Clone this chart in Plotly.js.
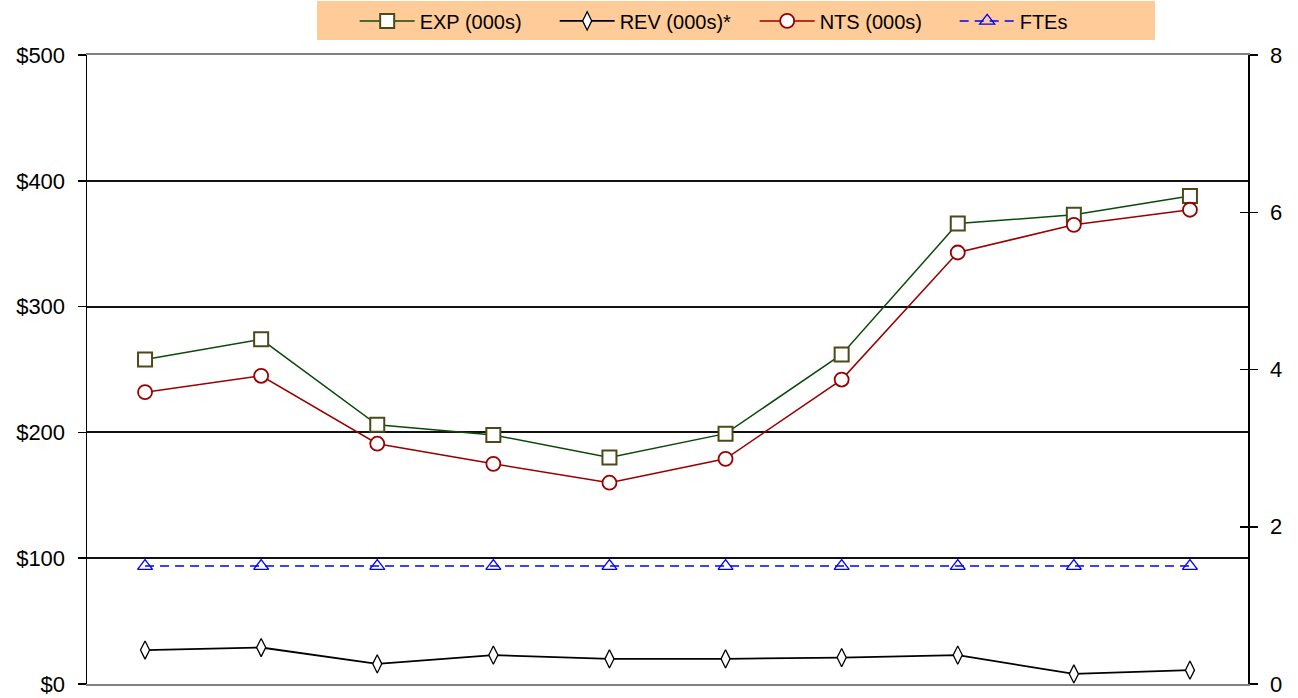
<!DOCTYPE html>
<html>
<head>
<meta charset="utf-8">
<script src="https://cdn.plot.ly/plotly-3.0.1.min.js"></script>
<style>html,body{margin:0;padding:0;background:#fff;}#chart{width:1298px;height:698px;}</style>
</head>
<body>
<div id="chart"></div>
<script>
const categories = [1, 2, 3, 4, 5, 6, 7, 8, 9, 10];
const expValues = [258, 274, 206, 198, 180, 199, 262, 366, 373, 388];
const revValues = [27, 29, 16, 23, 20, 20, 21, 23, 8, 11];
const ntsValues = [232, 245, 191, 175, 160, 179, 242, 343, 365, 377];
const fteValues = [1.5, 1.5, 1.5, 1.5, 1.5, 1.5, 1.5, 1.5, 1.5, 1.5];
const seriesNames = ["EXP (000s)", "REV (000s)*", "NTS (000s)", "FTEs"];
const leftTicks = [0, 100, 200, 300, 400, 500];
const leftTickLabels = ["$0", "$100", "$200", "$300", "$400", "$500"];
const rightTicks = [0, 2, 4, 6, 8];
const rightTickLabels = ["0", "2", "4", "6", "8"];

const xIdx = categories.map((c, i) => i);

const traces = [
  {
    x: xIdx, y: expValues, name: seriesNames[0], type: 'scatter', mode: 'lines+markers',
    line: {color: '#0b4a0b', width: 1.5},
    marker: {symbol: 'square', size: 14, color: '#ffffff', line: {color: '#4a4a1a', width: 2}}
  },
  {
    x: xIdx, y: revValues, name: seriesNames[1], type: 'scatter', mode: 'lines+markers',
    line: {color: '#000000', width: 1.8},
    marker: {symbol: 'diamond-tall', size: 13, color: '#ffffff', line: {color: '#000000', width: 1.3}}
  },
  {
    x: xIdx, y: ntsValues, name: seriesNames[2], type: 'scatter', mode: 'lines+markers',
    line: {color: '#990000', width: 1.5},
    marker: {symbol: 'circle', size: 14, color: '#ffffff', line: {color: '#990000', width: 1.8}}
  },
  {
    x: xIdx, y: fteValues, name: seriesNames[3], type: 'scatter', mode: 'lines+markers', yaxis: 'y2',
    line: {color: '#0000ff', width: 1.5, dash: '9px,6px'},
    marker: {symbol: 'triangle-up-open', size: 13, color: '#0000ff', line: {color: '#0000ff', width: 1.3}}
  },
  {
    x: [], y: [], yaxis: 'y3', showlegend: false, hoverinfo: 'skip', type: 'scatter'
  }
];

const layout = {
  width: 1298, height: 698,
  margin: {l: 87, r: 50, t: 55, b: 14},
  paper_bgcolor: '#ffffff', plot_bgcolor: '#ffffff',
  font: {family: 'Liberation Sans, Arial, sans-serif', size: 20, color: '#000000'},
  showlegend: true,
  legend: {
    orientation: 'h', x: 0.198, xanchor: 'left', y: 0.998, yref: 'container', yanchor: 'top',
    bgcolor: '#ffcc99', font: {size: 20, color: '#000000'},
    title: {text: '\u00a0\u00a0\u00a0\u00a0\u00a0', side: 'left', font: {size: 20}},
    traceorder: 'normal', itemwidth: 55, entrywidth: 130, entrywidthmode: 'pixels'
  },
  xaxis: {
    range: [-0.5, 9.5], showticklabels: false, ticks: '', showgrid: false, zeroline: false,
    showline: true, linecolor: '#808080', linewidth: 2, mirror: true, fixedrange: true
  },
  yaxis: {
    range: [0, 500], tickmode: 'array', tickvals: leftTicks, ticktext: leftTickLabels,
    ticks: 'outside', ticklen: 8, tickcolor: '#000', tickwidth: 1.5, ticklabelstandoff: 8,
    showgrid: true, gridcolor: '#111111', gridwidth: 2, zeroline: false,
    showline: true, linecolor: '#000000', linewidth: 1.5, tickfont: {size: 22}
  },
  yaxis2: {
    range: [0, 8], tickmode: 'array', tickvals: rightTicks, ticktext: rightTickLabels,
    overlaying: 'y', side: 'right', ticks: 'outside', ticklen: 8, tickcolor: '#000',
    tickwidth: 1.5, ticklabelstandoff: 8,
    showgrid: false, zeroline: false, showline: true, linecolor: '#000000', linewidth: 1.5,
    tickfont: {size: 22}
  },
  yaxis3: {
    range: [0, 8], tickmode: 'array', tickvals: rightTicks.slice(1, -1), overlaying: 'y', side: 'right',
    ticks: 'inside', ticklen: 8, tickcolor: '#000', tickwidth: 1.5, showticklabels: false,
    showgrid: false, zeroline: false, showline: false
  }
};

Plotly.newPlot('chart', traces, layout, {displayModeBar: false, staticPlot: true});
</script>
</body>
</html>
